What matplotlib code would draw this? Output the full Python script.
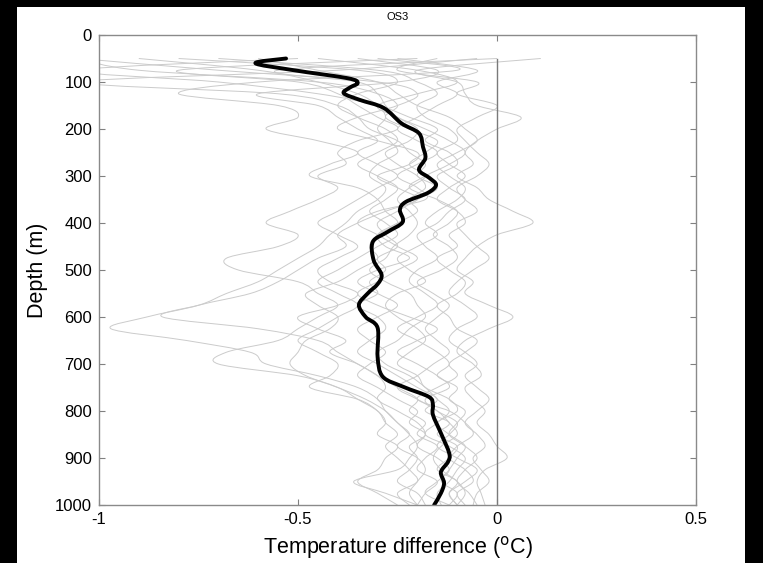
import numpy as np
import matplotlib
matplotlib.use("Agg")
import matplotlib.pyplot as plt
from matplotlib.patches import Rectangle, PathPatch
from matplotlib.path import Path

plt.rcParams['font.family'] = ['Liberation Sans', 'DejaVu Sans']

# depth levels of the individual profiles (m)
depth = np.arange(50, 1001, 25)

# individual temperature difference profiles (degC), one value per depth level
profiles = [
    [-0.9, -0.6, -0.45, -0.35, -0.3, -0.28, -0.3, -0.27, -0.25, -0.3, -0.32, -0.28, -0.3, -0.35, -0.38, -0.42, -0.45, -0.5, -0.55, -0.6,
     -0.68, -0.75, -0.88, -0.97, -0.78, -0.62, -0.58, -0.45, -0.35, -0.3, -0.28, -0.25, -0.22, -0.25, -0.2, -0.18, -0.2, -0.22, -0.2],
    [-1.05, -0.7, -0.3, -0.2, -0.25, -0.35, -0.4, -0.3, -0.2, -0.22, -0.3, -0.25, -0.2, -0.28, -0.35, -0.4, -0.38, -0.45, -0.5, -0.55,
     -0.62, -0.75, -0.84, -0.6, -0.45, -0.4, -0.35, -0.3, -0.28, -0.3, -0.25, -0.2, -0.18, -0.2, -0.15, -0.12, -0.15, -0.18, -0.12],
    [-0.2, -0.8, -0.5, -0.4, -0.35, -0.3, -0.25, -0.35, -0.4, -0.38, -0.45, -0.4, -0.45, -0.52, -0.58, -0.5, -0.55, -0.68, -0.65, -0.5,
     -0.45, -0.4, -0.45, -0.5, -0.55, -0.68, -0.7, -0.5, -0.4, -0.35, -0.3, -0.28, -0.3, -0.25, -0.28, -0.3, -0.35, -0.3, -0.25],
    [-0.3, -0.1, -0.6, -0.8, -0.55, -0.5, -0.58, -0.45, -0.35, -0.42, -0.47, -0.35, -0.3, -0.28, -0.25, -0.3, -0.32, -0.3, -0.35, -0.4,
     -0.48, -0.45, -0.4, -0.42, -0.48, -0.5, -0.52, -0.48, -0.4, -0.33, -0.28, -0.25, -0.22, -0.2, -0.22, -0.25, -0.36, -0.28, -0.2],
    [0.11, -0.2, -0.1, -0.08, -0.05, 0.06, 0.0, -0.05, -0.08, -0.06, -0.1, -0.05, -0.02, 0.04, 0.09, 0.0, -0.05, -0.08, -0.1, -0.06,
     -0.08, -0.02, 0.04, -0.02, -0.08, -0.1, -0.06, -0.04, -0.08, -0.06, -0.03, -0.05, -0.02, 0.0, 0.025, -0.03, -0.05, -0.04, -0.03],
    [-0.5, -1.05, -0.7, -0.45, -0.3, -0.22, -0.15, -0.18, -0.12, -0.1, -0.15, -0.12, -0.08, -0.12, -0.15, -0.2, -0.18, -0.15, -0.2, -0.22,
     -0.18, -0.15, -0.2, -0.25, -0.2, -0.15, -0.12, -0.15, -0.1, -0.12, -0.08, -0.1, -0.12, -0.08, -0.05, -0.08, -0.1, -0.07, -0.05],
    [-0.05, -0.4, -1.05, -0.55, -0.4, -0.35, -0.32, -0.25, -0.22, -0.18, -0.2, -0.15, -0.2, -0.25, -0.3, -0.28, -0.25, -0.3, -0.28, -0.32,
     -0.3, -0.35, -0.3, -0.28, -0.32, -0.35, -0.3, -0.25, -0.2, -0.15, -0.18, -0.12, -0.15, -0.1, -0.12, -0.15, -0.1, -0.12, -0.1],
    [-0.7, -0.3, -0.2, -0.15, -0.2, -0.18, -0.12, -0.1, -0.15, -0.12, -0.08, -0.12, -0.15, -0.1, -0.08, -0.12, -0.1, -0.15, -0.12, -0.08,
     -0.1, -0.15, -0.12, -0.1, -0.05, -0.08, -0.12, -0.1, -0.15, -0.2, -0.12, -0.08, -0.06, -0.1, -0.12, -0.08, -0.06, -0.1, -0.08],
    [-0.35, -0.15, -0.25, -0.6, -0.45, -0.4, -0.35, -0.3, -0.35, -0.3, -0.25, -0.3, -0.35, -0.4, -0.45, -0.4, -0.35, -0.4, -0.45, -0.42,
     -0.35, -0.4, -0.5, -0.45, -0.38, -0.42, -0.35, -0.3, -0.25, -0.2, -0.22, -0.18, -0.2, -0.15, -0.18, -0.2, -0.15, -0.18, -0.2],
    [-0.6, -0.45, -0.3, -0.25, -0.2, -0.12, -0.08, -0.05, -0.1, -0.15, -0.12, -0.08, -0.1, -0.15, -0.18, -0.15, -0.2, -0.25, -0.22, -0.18,
     -0.25, -0.28, -0.25, -0.2, -0.18, -0.22, -0.25, -0.2, -0.18, -0.12, -0.1, -0.15, -0.12, -0.08, -0.1, -0.12, -0.14, -0.1, -0.12],
    [0.0, -0.55, -0.35, -0.3, -0.28, -0.25, -0.2, -0.22, -0.28, -0.25, -0.2, -0.18, -0.22, -0.2, -0.25, -0.3, -0.28, -0.22, -0.3, -0.35,
     -0.3, -0.25, -0.3, -0.35, -0.32, -0.28, -0.32, -0.35, -0.3, -0.25, -0.2, -0.22, -0.18, -0.22, -0.2, -0.22, -0.25, -0.2, -0.18],
    [-0.25, -0.05, -0.15, -0.1, -0.15, -0.2, -0.25, -0.2, -0.15, -0.2, -0.25, -0.2, -0.18, -0.3, -0.35, -0.3, -0.25, -0.2, -0.25, -0.3,
     -0.35, -0.3, -0.22, -0.15, -0.2, -0.25, -0.2, -0.15, -0.12, -0.18, -0.15, -0.1, -0.12, -0.15, -0.1, -0.05, -0.08, -0.12, -0.1],
    [-0.8, -0.35, -0.25, -0.35, -0.4, -0.35, -0.28, -0.25, -0.3, -0.35, -0.3, -0.25, -0.28, -0.32, -0.28, -0.25, -0.3, -0.35, -0.4, -0.45,
     -0.4, -0.35, -0.4, -0.45, -0.5, -0.45, -0.4, -0.42, -0.47, -0.35, -0.3, -0.28, -0.25, -0.28, -0.25, -0.22, -0.2, -0.25, -0.22],
    [-0.15, -0.25, -0.05, -0.1, 0.0, -0.05, -0.1, -0.08, -0.05, -0.02, -0.05, -0.1, -0.08, -0.05, -0.1, -0.08, -0.05, -0.02, -0.06, -0.1,
     -0.12, -0.08, -0.05, -0.1, -0.12, -0.08, -0.05, -0.08, -0.05, -0.02, -0.05, -0.08, -0.05, -0.03, -0.06, -0.04, -0.02, -0.05, -0.06],
    [-1.05, -0.9, -0.45, -0.3, -0.25, -0.28, -0.22, -0.15, -0.18, -0.22, -0.18, -0.22, -0.25, -0.22, -0.2, -0.22, -0.26, -0.28, -0.32, -0.28,
     -0.22, -0.2, -0.18, -0.22, -0.25, -0.3, -0.28, -0.22, -0.18, -0.15, -0.12, -0.15, -0.18, -0.12, -0.08, -0.1, -0.12, -0.15, -0.14],
    [-0.45, -0.2, -0.1, -0.2, -0.3, -0.25, -0.18, -0.12, -0.08, -0.12, -0.18, -0.22, -0.15, -0.1, -0.12, -0.16, -0.12, -0.1, -0.14, -0.2,
     -0.16, -0.12, -0.15, -0.18, -0.15, -0.12, -0.16, -0.2, -0.25, -0.2, -0.15, -0.12, -0.1, -0.14, -0.16, -0.14, -0.1, -0.08, -0.1],
]

# mean profile
mean_depth = [50, 60, 75, 92, 102, 112, 124, 138, 155, 188, 209, 238, 262, 287, 304, 319, 336, 355, 372, 398, 419,
              440, 479, 510, 530, 550, 574, 600, 623, 685, 727, 749, 770, 787, 808, 847, 890, 908, 930, 953, 975, 1000]
mean_temp = [-0.53, -0.607, -0.51, -0.375, -0.35, -0.37, -0.385, -0.345, -0.285, -0.24, -0.196, -0.186, -0.18, -0.196,
             -0.17, -0.153, -0.174, -0.229, -0.244, -0.237, -0.275, -0.312, -0.31, -0.29, -0.30, -0.325, -0.347, -0.33,
             -0.30, -0.30, -0.287, -0.234, -0.171, -0.161, -0.161, -0.141, -0.12, -0.123, -0.141, -0.133, -0.141, -0.158]

xticks = [-1, -0.5, 0, 0.5]
xticklabels = ['-1', '-0.5', '0', '0.5']
yticks = list(range(0, 1001, 100))


def smooth_line(ax, x, y, **kw):
    # Catmull-Rom curve through the points, drawn as cubic bezier segments
    pts = np.column_stack([x, y]).astype(float)
    n = len(pts)
    verts = [pts[0]]
    codes = [Path.MOVETO]
    for i in range(n - 1):
        p0 = pts[i - 1] if i > 0 else pts[i]
        p1, p2 = pts[i], pts[i + 1]
        p3 = pts[i + 2] if i + 2 < n else pts[i + 1]
        verts += [p1 + (p2 - p0) / 6, p2 - (p3 - p1) / 6, p2]
        codes += [Path.CURVE4] * 3
    patch = PathPatch(Path(verts, codes), fill=False, **kw)
    ax.add_patch(patch)
    return patch


fig = plt.figure(figsize=(7.63, 5.63), dpi=100, facecolor='black')
# white page area inside the black frame
fig.patches.append(Rectangle((17 / 763, 0), (745 - 17) / 763, 1 - 7 / 563,
                             transform=fig.transFigure, facecolor='white', edgecolor='none', zorder=-10))

ax = fig.add_axes([99 / 763, 1 - 505 / 563, (696 - 99) / 763, (505 - 35) / 563])
ax.set_facecolor('white')

for p in profiles:
    smooth_line(ax, p, depth, edgecolor='#cbcbcb', lw=0.7)

ax.plot([0, 0], [50, 1000], color='#7a7a7a', lw=1.0)
smooth_line(ax, mean_temp, mean_depth, edgecolor='black', lw=2.8, capstyle='round', joinstyle='round')

ax.set_xlim(-1, 0.5)
ax.set_ylim(1000, 0)
ax.set_xticks(xticks)
ax.set_xticklabels(xticklabels)
ax.set_yticks(yticks)
ax.tick_params(direction='in', length=4, width=0.8, color='#808080', labelsize=12,
               top=True, right=True, pad=5)
for s in ax.spines.values():
    s.set_color('#8a8a8a')
    s.set_linewidth(1.0)

ax.set_title('OS3', fontsize=8, pad=11)
ax.set_xlabel('Temperature difference ($^{\\mathrm{o}}$C)', fontsize=15.5, labelpad=5)
ax.set_ylabel('Depth (m)', fontsize=15.5, labelpad=5)

fig.savefig('out.png', dpi=100, facecolor=fig.get_facecolor())
